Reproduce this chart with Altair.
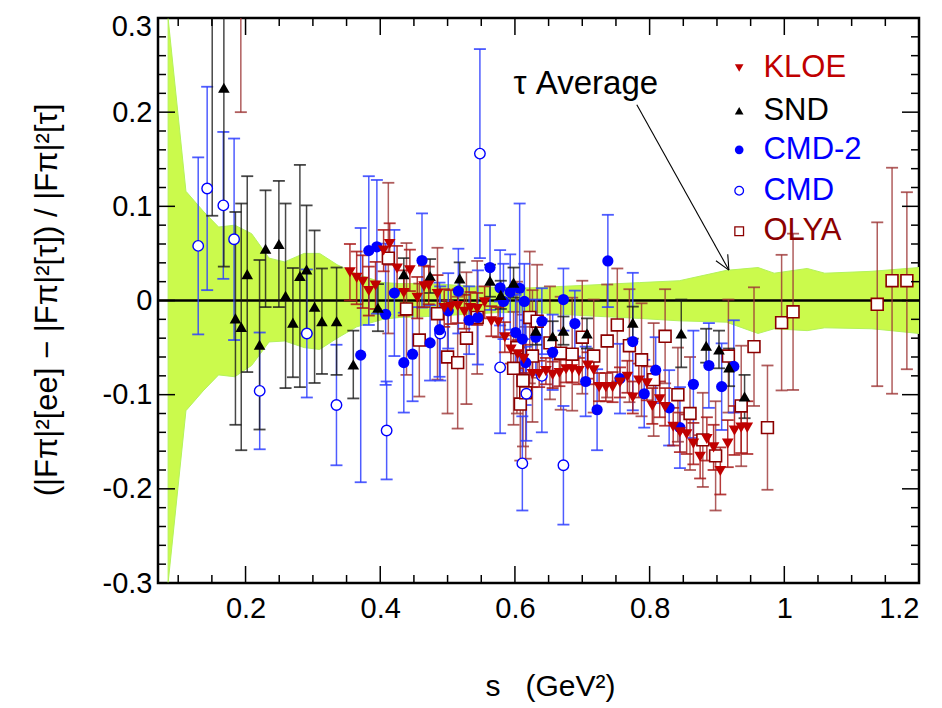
import altair as alt
import pandas as pd
import numpy as np

FONT = "Liberation Sans"

# ---------------- tau average band ----------------
band_s = [0.085, 0.1115, 0.137, 0.16, 0.184, 0.209, 0.235, 0.258, 0.287, 0.31, 0.336, 0.365, 0.404, 0.429,
          0.47, 0.52, 0.57, 0.622, 0.7, 0.785, 0.844, 0.914, 0.961, 0.985, 1.034, 1.06, 1.13, 1.2]
band_hi = [0.3, 0.116, 0.095, 0.078, 0.08, 0.071, 0.045, 0.041, 0.05, 0.05, 0.038, 0.028, 0.019, 0.018,
           0.018, 0.016, 0.014, 0.0134, 0.016, 0.019, 0.021, 0.032, 0.035, 0.029, 0.034, 0.029, 0.031, 0.035]
band_lo = [-0.3, -0.117, -0.096, -0.079, -0.081, -0.069, -0.044, -0.043, -0.05, -0.052, -0.04, -0.028, -0.02, -0.018,
           -0.017, -0.015, -0.013, -0.0124, -0.016, -0.019, -0.0216, -0.023, -0.035, -0.030, -0.032, -0.029, -0.030, -0.035]

# ---------------- KLOE ----------------
kloe_s = [0.355, 0.365, 0.374, 0.383, 0.393, 0.405, 0.414, 0.425, 0.435, 0.444,
          0.455, 0.465, 0.472, 0.485, 0.495, 0.505, 0.515, 0.525, 0.534, 0.544,
          0.555, 0.565, 0.575, 0.585, 0.594, 0.604, 0.613, 0.626, 0.636, 0.646,
          0.656, 0.666, 0.676, 0.685, 0.695, 0.708, 0.717, 0.725, 0.735, 0.745,
          0.756, 0.767, 0.775, 0.784, 0.796, 0.804, 0.815, 0.823, 0.835, 0.845,
          0.855, 0.865, 0.875, 0.885, 0.895, 0.905, 0.916, 0.926, 0.936, 0.945]
kloe_y = [0.030, 0.024, 0.020, 0.010, 0.016, 0.053, 0.060, 0.034, 0.008, 0.032,
          0.003, 0.015, 0.016, 0.007, -0.008, -0.007, -0.006, -0.012, -0.008, -0.009,
          -0.002, -0.022, -0.023, -0.039, -0.052, -0.057, -0.062, -0.078, -0.078, -0.075,
          -0.079, -0.077, -0.073, -0.073, -0.075, -0.069, -0.074, -0.092, -0.092, -0.092,
          -0.087, -0.081, -0.103, -0.085, -0.088, -0.112, -0.105, -0.113, -0.134, -0.140,
          -0.142, -0.152, -0.166, -0.147, -0.156, -0.181, -0.152, -0.138, -0.135, -0.135]
kloe_e = [0.030, 0.028, 0.028, 0.026, 0.025, 0.022, 0.022, 0.024, 0.024, 0.022,
          0.022, 0.022, 0.020, 0.020, 0.020, 0.018, 0.018, 0.018, 0.017, 0.017,
          0.017, 0.016, 0.016, 0.016, 0.015, 0.015, 0.015, 0.014, 0.014, 0.014,
          0.014, 0.014, 0.014, 0.014, 0.014, 0.014, 0.015, 0.015, 0.015, 0.016,
          0.016, 0.017, 0.017, 0.018, 0.018, 0.019, 0.019, 0.020, 0.020, 0.021,
          0.021, 0.022, 0.023, 0.023, 0.024, 0.025, 0.025, 0.026, 0.027, 0.028]

# ---------------- SND ----------------
snd_s = [0.1505, 0.1678, 0.185, 0.1936, 0.2025, 0.2208, 0.2297, 0.2495, 0.2594, 0.2703,
         0.2807, 0.2906, 0.3025, 0.3134, 0.3352, 0.360, 0.3966, 0.435, 0.474, 0.518,
         0.563, 0.579, 0.598, 0.631, 0.656, 0.672, 0.707, 0.775, 0.847, 0.884,
         0.903, 0.918, 0.941]
snd_y = [0.33, 0.226, -0.019, -0.028, 0.028, -0.047, 0.055, 0.060, 0.005, -0.0235,
         0.026, 0.033, -0.0066, -0.022, -0.022, -0.068, -0.0076, 0.028, 0.026, 0.0235,
         0.021, 0.006, 0.019, -0.032, -0.038, -0.032, -0.035, -0.0235, -0.035, -0.048,
         -0.052, -0.071, -0.102]
snd_e = [0.24, 0.19, 0.113, 0.131, 0.104, 0.09, 0.062, 0.067, 0.098, 0.058,
         0.118, 0.068, 0.081, 0.056, 0.057, 0.036, 0.025, 0.017, 0.018, 0.017,
         0.017, 0.015, 0.016, 0.015, 0.016, 0.015, 0.016, 0.017, 0.036, 0.018,
         0.02, 0.02, 0.023]

# ---------------- CMD-2 ----------------
cmd2_s = [0.371, 0.383, 0.395, 0.408, 0.421, 0.435, 0.448, 0.462, 0.474, 0.488,
          0.501, 0.516, 0.532, 0.545, 0.563, 0.578, 0.583, 0.593, 0.601, 0.607,
          0.611, 0.614, 0.616, 0.631, 0.640, 0.656, 0.672, 0.689, 0.705, 0.722,
          0.738, 0.756, 0.775, 0.792, 0.809, 0.829, 0.845, 0.865, 0.888, 0.907, 0.925]
cmd2_y = [-0.058, 0.053, 0.057, -0.0146, 0.008, -0.066, -0.057, 0.0425, -0.045, -0.031,
          -0.011, 0.010, -0.021, -0.018, 0.035, 0.0135, -0.001, 0.009, -0.034, 0.013,
          -0.041, -0.001, -0.066, -0.039, -0.022, -0.055, 0.001, -0.0245, -0.086, -0.116,
          0.042, -0.083, -0.0436, -0.099, -0.074, -0.114, -0.135, -0.089, -0.069, -0.0915, -0.070]
cmd2_e = [0.135, 0.079, 0.071, 0.075, 0.067, 0.053, 0.050, 0.050, 0.040, 0.050,
          0.040, 0.045, 0.036, 0.050, 0.045, 0.040, 0.040, 0.040, 0.040, 0.090,
          0.040, 0.040, 0.045, 0.040, 0.035, 0.040, 0.033, 0.035, 0.037, 0.043,
          0.049, 0.037, 0.073, 0.036, 0.035, 0.040, 0.043, 0.057, 0.045, 0.046, 0.049]

# ---------------- CMD ----------------
cmd_s = [0.1297, 0.143, 0.167, 0.183, 0.221, 0.291, 0.335, 0.4095, 0.489, 0.548,
         0.578, 0.611, 0.617, 0.640, 0.672]
cmd_y = [0.058, 0.119, 0.101, 0.065, -0.096, -0.035, -0.111, -0.138, -0.035, 0.156,
         -0.071, -0.173, -0.099, -0.080, -0.175]
cmd_e = [0.094, 0.108, 0.078, 0.107, 0.062, 0.068, 0.064, 0.052, 0.050, 0.111,
         0.070, 0.050, 0.050, 0.060, 0.063]

# ---------------- OLYA ----------------
olya_s = [0.193, 0.412, 0.439, 0.458, 0.485, 0.500, 0.515, 0.528, 0.544, 0.598,
          0.603, 0.608, 0.612, 0.616, 0.622, 0.626, 0.633, 0.652, 0.668, 0.685,
          0.700, 0.717, 0.737, 0.752, 0.770, 0.788, 0.806, 0.823, 0.842, 0.860,
          0.879, 0.898, 0.917, 0.936, 0.955, 0.975, 0.996, 1.013, 1.138, 1.160, 1.182]
olya_y = [0.37, 0.045, -0.009, -0.042, -0.014, -0.060, -0.066, -0.040, -0.018, -0.072,
          -0.050, -0.110, -0.085, -0.098, -0.018, -0.059, -0.022, -0.045, -0.056, -0.057,
          -0.039, -0.059, -0.043, -0.026, -0.048, -0.063, -0.084, -0.038, -0.100, -0.120,
          -0.148, -0.165, -0.059, -0.112, -0.049, -0.135, -0.0235, -0.012, -0.004, 0.021, 0.021]
olya_e = [0.17, 0.08, 0.07, 0.06, 0.07, 0.06, 0.07, 0.07, 0.06, 0.06,
          0.07, 0.06, 0.07, 0.07, 0.07, 0.07, 0.06, 0.06, 0.06, 0.06,
          0.06, 0.06, 0.06, 0.06, 0.06, 0.06, 0.06, 0.05, 0.05, 0.06,
          0.05, 0.058, 0.06, 0.064, 0.063, 0.066, 0.072, 0.083, 0.087, 0.12, 0.094]

# ---------------- legend / annotation text ----------------
legend_names = ["KLOE", "SND", "CMD-2", "CMD", "OLYA"]
legend_colors = ["#c00000", "#000000", "#0000ff", "#0000ff", "#8b0000"]
legend_y = [0.247, 0.2016, 0.160, 0.1166, 0.0735]
legend_marker_s = 0.933
legend_text_s = 0.969

tau_label = "\u03c4 Average"
tau_label_pos = (0.598, 0.2196)
arrow_x = [0.781, 0.916, 0.8985]
arrow_y = [0.2079, 0.0492, 0.0422]
arrow_x2 = [0.9177, 0.9177, 0.9177]
arrow_y2 = [0.0323, 0.0323, 0.0323]

x_major = [0.2, 0.4, 0.6, 0.8, 1.0, 1.2]
x_minor = [round(v, 3) for v in np.arange(0.1, 1.2, 0.05) if round(v, 3) not in (0.2, 0.4, 0.6, 0.8, 1.0)]
y_major = [-0.3, -0.2, -0.1, 0.0, 0.1, 0.2, 0.3]
y_axis_labels = [-0.3, -0.2, -0.1, 0.0, 0.1, 0.2]   # 0.3 drawn separately (kept inside the page)
y_top_label = [0.3]
y_minor = [round(v, 3) for v in np.arange(-0.28, 0.29, 0.02) if abs(round(v * 10) - v * 10) > 1e-6]

W, H = 761, 565
XS = alt.Scale(domain=[0.07, 1.2], nice=False, zero=False)
YS = alt.Scale(domain=[-0.3, 0.3], nice=False, zero=False)

LABEL_EXPR = ("abs(datum.value) < 1e-9 ? '0' : (datum.value < 0 ? '-' + format(-datum.value, '.1f') "
              ": format(datum.value, '.1f'))")

x_axis = alt.Axis(values=x_major, labelExpr="format(datum.value, '.1~f')", ticks=False, tickSize=0,
                  domain=False, grid=False, labelFontSize=29, labelFont=FONT, labelColor="black",
                  labelPadding=11, title="s\u00a0\u00a0\u00a0(GeV\u00b2)", titleFont=FONT, titleFontSize=30,
                  titleFontWeight="normal", titleColor="black", titleX=392, titleY=103,
                  titleBaseline="middle", titleAlign="center")
y_axis = alt.Axis(values=y_axis_labels, labelExpr=LABEL_EXPR,
                  ticks=False, tickSize=0, domain=False, grid=False, labelFontSize=29, labelFont=FONT,
                  labelColor="black", labelPadding=6,
                  title="(|F\u03c0|\u00b2[ee] \u2212 |F\u03c0|\u00b2[\u03c4]) / |F\u03c0|\u00b2[\u03c4]",
                  titleFont=FONT, titleFontSize=31, titleFontWeight="normal", titleColor="black",
                  titleX=-111, titleY=281.5, titleAngle=270, titleAlign="center", titleBaseline="middle")


def X(f):
    return alt.X(f, type="quantitative", scale=XS, axis=x_axis)


def Y(f):
    return alt.Y(f, type="quantitative", scale=YS, axis=y_axis)


def mkdf(s, y, e):
    d = pd.DataFrame({"s": s, "y": y, "e": e})
    d["lo"] = d["y"] - d["e"]
    d["hi"] = d["y"] + d["e"]
    return d


band_df = pd.DataFrame({"s": band_s, "hi": band_hi, "lo": band_lo})

band = alt.Chart(band_df).mark_area(color="#cbfa4c", stroke="#b4f25c", strokeWidth=1, clip=True).encode(
    x=X("s"), y=Y("hi"), y2=alt.Y2("lo"))

zero = alt.Chart(pd.DataFrame({"y": [0.0]})).mark_rule(color="black", strokeWidth=2.5).encode(y=Y("y"))

layers = [band, zero]


def errbars(d, color, op):
    base = alt.Chart(d)
    v = base.mark_rule(color=color, strokeWidth=1.5, opacity=op, clip=True).encode(
        x=X("s"), y=Y("lo"), y2=alt.Y2("hi"))
    c1 = base.mark_rule(color=color, strokeWidth=1.8, opacity=op, clip=True, xOffset=-6, x2Offset=6).encode(
        x=X("s"), x2=alt.X2("s"), y=Y("lo"))
    c2 = base.mark_rule(color=color, strokeWidth=1.8, opacity=op, clip=True, xOffset=-6, x2Offset=6).encode(
        x=X("s"), x2=alt.X2("s"), y=Y("hi"))
    return [v, c1, c2]


olya = mkdf(olya_s, olya_y, olya_e)
cmd = mkdf(cmd_s, cmd_y, cmd_e)
cmd2 = mkdf(cmd2_s, cmd2_y, cmd2_e)
snd = mkdf(snd_s, snd_y, snd_e)
kloe = mkdf(kloe_s, kloe_y, kloe_e)

layers += errbars(olya, "#9c3434", 0.8)
layers += errbars(cmd, "#2f3fff", 0.85)
layers += errbars(cmd2, "#2f3fff", 0.85)
layers += errbars(snd, "#1a1a1a", 0.8)
layers += errbars(kloe, "#a81818", 0.85)

layers.append(alt.Chart(olya).mark_point(shape="square", size=140, filled=False, fill="white", fillOpacity=1,
                                         color="#8b0000", strokeWidth=1.6, opacity=1, clip=True).encode(
    x=X("s"), y=Y("y")))
layers.append(alt.Chart(cmd).mark_point(shape="circle", size=110, filled=False, fill="white", fillOpacity=1,
                                        color="#0000ff", strokeWidth=1.4, opacity=1, clip=True).encode(
    x=X("s"), y=Y("y")))
layers.append(alt.Chart(cmd2).mark_point(shape="circle", size=125, filled=True, color="#0000ff", opacity=1,
                                         clip=True).encode(x=X("s"), y=Y("y")))
layers.append(alt.Chart(snd).mark_point(shape="triangle-up", size=135, filled=True, color="#000000", opacity=1,
                                        clip=True).encode(x=X("s"), y=Y("y")))
layers.append(alt.Chart(kloe).mark_point(shape="triangle-down", size=135, filled=True, color="#c00000", opacity=1,
                                         clip=True).encode(x=X("s"), y=Y("y")))

# inward ticks
xt_major = pd.DataFrame({"v": x_major})
xt_minor = pd.DataFrame({"v": x_minor})
yt_major = pd.DataFrame({"v": y_major})
yt_minor = pd.DataFrame({"v": y_minor})
for dfv, ln in ((xt_major, 17), (xt_minor, 8)):
    layers.append(alt.Chart(dfv).mark_rule(color="black", strokeWidth=1.5).encode(
        x=X("v"), y=alt.value(H), y2=alt.value(H - ln)))
    layers.append(alt.Chart(dfv).mark_rule(color="black", strokeWidth=1.5).encode(
        x=X("v"), y=alt.value(0), y2=alt.value(ln)))
for dfv, ln in ((yt_major, 17), (yt_minor, 8)):
    layers.append(alt.Chart(dfv).mark_rule(color="black", strokeWidth=1.5).encode(
        y=Y("v"), x=alt.value(0), x2=alt.value(ln)))
    layers.append(alt.Chart(dfv).mark_rule(color="black", strokeWidth=1.5).encode(
        y=Y("v"), x=alt.value(W), x2=alt.value(W - ln)))

# top y tick label, nudged so it stays inside the page
layers.append(alt.Chart(pd.DataFrame({"v": y_top_label, "t": ["0.3"]})).mark_text(
    font=FONT, fontSize=29, align="right", baseline="top", dy=-5, color="black").encode(
    y=Y("v"), x=alt.value(-6), text="t:N"))

# legend
leg = pd.DataFrame({"name": legend_names, "col": legend_colors, "y": legend_y,
                    "ms": [legend_marker_s] * 5, "ts": [legend_text_s] * 5})
shapes = ["triangle-down", "triangle-up", "circle", "circle", "square"]
for i in range(5):
    row = leg.iloc[[i]]
    filled = i < 3
    layers.append(alt.Chart(row).mark_point(shape=shapes[i], size=75, filled=filled,
                                            fill=(legend_colors[i] if filled else "white"), fillOpacity=1,
                                            color=legend_colors[i], strokeWidth=1.3, opacity=1).encode(
        x=X("ms"), y=Y("y")))
layers.append(alt.Chart(leg).mark_text(font=FONT, fontSize=31, align="left", baseline="middle").encode(
    x=X("ts"), y=Y("y"), text="name:N", color=alt.Color("col:N", scale=None)))

# tau average annotation
layers.append(alt.Chart(pd.DataFrame({"s": [tau_label_pos[0]], "y": [tau_label_pos[1]], "t": [tau_label]}))
              .mark_text(font=FONT, fontSize=33, align="left", baseline="alphabetic", color="black")
              .encode(x=X("s"), y=Y("y"), text="t:N"))
arr = pd.DataFrame({"a": arrow_x, "b": arrow_y, "a2": arrow_x2, "b2": arrow_y2})
layers.append(alt.Chart(arr).mark_rule(color="black", strokeWidth=1.1).encode(
    x=X("a"), y=Y("b"), x2=alt.X2("a2"), y2=alt.Y2("b2")))

chart = alt.layer(*layers).properties(
    width=W, height=H,
    autosize=alt.AutoSizeParams(type="none"),
    padding={"left": 150, "top": 10, "right": 15, "bottom": 125},
    background="white",
).configure_view(stroke="black", strokeWidth=2.5)

chart.save("out.html", embed_options={"renderer": "svg", "actions": False})
